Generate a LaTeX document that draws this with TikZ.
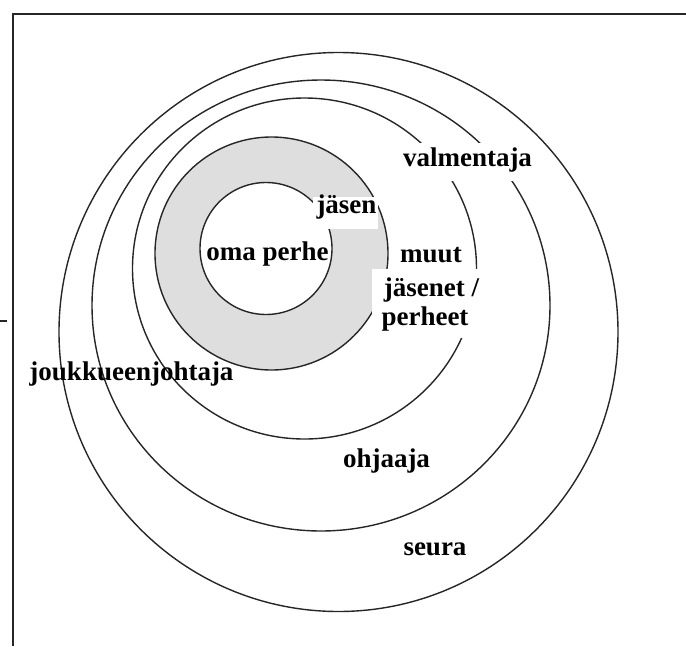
\documentclass[tikz,border=0pt]{standalone}
\usepackage{fontspec}
\setmainfont{Liberation Serif}
\definecolor{ringgray}{RGB}{222,222,222}
\begin{document}
\begin{tikzpicture}[x=1pt,y=-1pt,
  ring/.style={line width=1.4pt, draw=black!85},
  frameline/.style={line width=2pt, draw=black!85},
  lbl/.style={font=\fontsize{27}{30}\selectfont\bfseries, inner sep=0pt, anchor=base},
  patch/.style={fill=white}]
\useasboundingbox (0,0) rectangle (686,646);
% frame
\coordinate (ftr) at (686,14);
\coordinate (ftl) at (12.5,14);
\coordinate (fbl) at (12.5,646);
\draw[frameline] (ftr) -- (ftl) -- (fbl);
\coordinate (tick1) at (0,321);
\coordinate (tick2) at (7,321);
\draw[frameline] (tick1) -- (tick2);
% rings
\draw[ring] (338.5,332) circle [radius=279.5];
\draw[ring] (321,305.5) ellipse [x radius=229, y radius=225.5];
\draw[ring] (304.5,268.5) ellipse [x radius=172, y radius=170.5];
\draw[ring, fill=ringgray] (271.5,253.5) circle [radius=116.5];
\draw[ring, fill=white] (266,248.5) circle [radius=66];
% white patches behind labels
\fill[patch] (396,143) rectangle (540,181);
\fill[patch] (372,269) rectangle (485,338);
\fill[patch] (313,197) rectangle (378,229);
% labels
\node[lbl] (valm) at (467.5,166) {valmentaja};
\node[lbl] (muut) at (431,262) {muut};
\node[lbl] (jasenet) at (431.5,296) {jäsenet /};
\node[lbl] (perheet) at (425,325) {perheet};
\node[lbl] (jasen) at (346.5,213) {jäsen};
\node[lbl] (oma) at (267.5,260) {oma perhe};
\node[lbl] (jouk) at (131.5,380) {joukkueenjohtaja};
\node[lbl] (ohj) at (386.5,467) {ohjaaja};
\node[lbl] (seura) at (435,555) {seura};
\end{tikzpicture}
\end{document}
